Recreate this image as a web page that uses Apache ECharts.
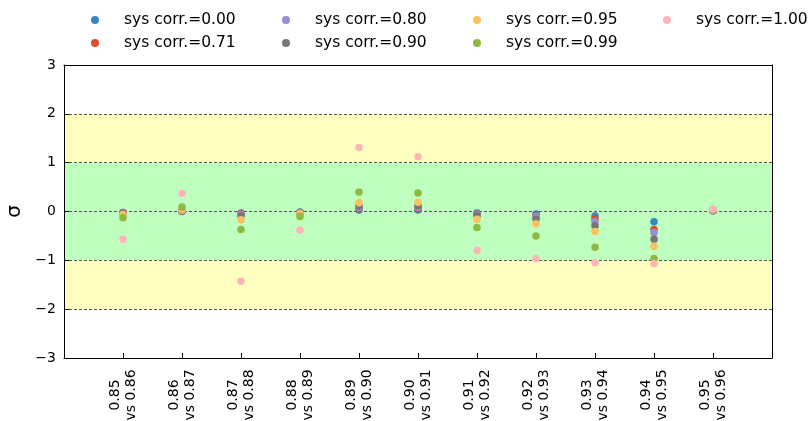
<!DOCTYPE html>
<html>
<head>
<meta charset="utf-8">
<script src="https://cdn.jsdelivr.net/npm/echarts@6/dist/echarts.min.js"></script>
<style>html,body{margin:0;padding:0;background:#fff;}#c{width:808px;height:421px;}</style>
</head>
<body>
<div id="c"></div>
<script>
// Comparison pairs (x categories)
const lowVals  = ['0.85','0.86','0.87','0.88','0.89','0.90','0.91','0.92','0.93','0.94','0.95'];
const highVals = ['0.86','0.87','0.88','0.89','0.90','0.91','0.92','0.93','0.94','0.95','0.96'];
// Series names
const seriesNames = ['sys corr.=0.00','sys corr.=0.71','sys corr.=0.80','sys corr.=0.90','sys corr.=0.95','sys corr.=0.99','sys corr.=1.00'];
// Values (sigma) per series
const corr000 = [-0.02, 0.00, -0.03, -0.01, 0.03, 0.03, -0.03, -0.05, -0.09, -0.21, 0.01];
const corr071 = [-0.02, 0.01, -0.04, -0.02, 0.06, 0.06, -0.05, -0.09, -0.16, -0.37, 0.02];
const corr080 = [-0.03, 0.01, -0.06, -0.02, 0.08, 0.08, -0.06, -0.11, -0.21, -0.43, 0.02];
const corr090 = [-0.04, 0.02, -0.09, -0.03, 0.12, 0.12, -0.08, -0.16, -0.29, -0.57, 0.03];
const corr095 = [-0.06, 0.03, -0.17, -0.04, 0.18, 0.19, -0.16, -0.25, -0.41, -0.71, 0.03];
const corr099 = [-0.13, 0.09, -0.37, -0.10, 0.40, 0.38, -0.33, -0.50, -0.73, -0.96, 0.04];
const corr100 = [-0.57, 0.37, -1.43, -0.38, 1.31, 1.12, -0.80, -0.97, -1.05, -1.07, 0.05];
const yTicks = [-3, -2, -1, 0, 1, 2, 3];

const allValues = [corr000, corr071, corr080, corr090, corr095, corr099, corr100];
const colors = ['#348ABD', '#E24A33', '#988ED5', '#777777', '#FBC15E', '#8EBA42', '#FFB5B8'];
const FONT = 'DejaVu Sans';

const chart = echarts.init(document.getElementById('c'), null, {renderer: 'canvas'});

const legendPos = [[91, 12], [91, 35], [282, 12], [282, 35], [473, 12], [473, 35], [663, 12]];

const option = {
  animation: false,
  backgroundColor: '#fff',
  color: colors,
  textStyle: {fontFamily: FONT},
  grid: {left: 64, right: 36, top: 65, bottom: 63, containLabel: false, outerBoundsMode: 'none'},
  legend: seriesNames.map((n, i) => ({
    data: [n], left: legendPos[i][0], top: legendPos[i][1], padding: 0,
    icon: 'circle', itemWidth: 48, itemHeight: 8, selectedMode: false,
    textStyle: {fontSize: 15.5, color: '#000', fontFamily: FONT}
  })),
  xAxis: [{
    type: 'value', min: -1, max: 11, interval: 1,
    axisLine: {show: true, onZero: false, lineStyle: {color: '#000', width: 1}},
    axisTick: {show: true, inside: true, length: 5, lineStyle: {color: '#000'}},
    splitLine: {show: false},
    axisLabel: {
      rotate: 90, align: 'center', verticalAlign: 'middle', margin: 37,
      fontSize: 14, lineHeight: 16, color: '#000', fontFamily: FONT,
      formatter: v => (v >= 0 && v < lowVals.length) ? (lowVals[v] + '\nvs ' + highVals[v]) : ''
    }
  }, {
    type: 'value', position: 'top', min: -1, max: 11,
    axisLine: {show: true, onZero: false, lineStyle: {color: '#000', width: 1}},
    axisTick: {show: false}, axisLabel: {show: false}, splitLine: {show: false}
  }],
  yAxis: [{
    type: 'value', min: yTicks[0], max: yTicks[yTicks.length - 1], interval: 1,
    name: 'σ', nameLocation: 'middle', nameRotate: 90, nameGap: 39,
    nameTextStyle: {fontSize: 20, color: '#000', fontFamily: FONT},
    axisLine: {show: true, onZero: false, lineStyle: {color: '#000', width: 1}},
    axisTick: {show: true, inside: true, length: 5, lineStyle: {color: '#000'}},
    axisLabel: {
      margin: 8, fontSize: 14, color: '#000', fontFamily: FONT,
      formatter: v => v < 0 ? '\u2212' + Math.abs(v) : String(v)
    },
    splitLine: {show: true, showMinLine: false, showMaxLine: false,
      lineStyle: {color: '#555', width: 1, type: [3, 2]}},
    splitArea: {show: true, areaStyle: {color: ['rgba(0,0,0,0)', '#ffffbf', '#bfffbf', '#bfffbf', '#ffffbf', 'rgba(0,0,0,0)']}}
  }, {
    type: 'value', position: 'right', min: -3, max: 3,
    axisLine: {show: true, onZero: false, lineStyle: {color: '#000', width: 1}},
    axisTick: {show: false}, axisLabel: {show: false}, splitLine: {show: false}
  }],
  series: seriesNames.map((n, i) => ({
    name: n, type: 'scatter', xAxisIndex: 0, yAxisIndex: 0,
    symbol: 'circle', symbolSize: 7.5,
    itemStyle: {color: colors[i], opacity: 1},
    data: allValues[i].map((v, j) => [j, v])
  }))
};
chart.setOption(option);
</script>
</body>
</html>
